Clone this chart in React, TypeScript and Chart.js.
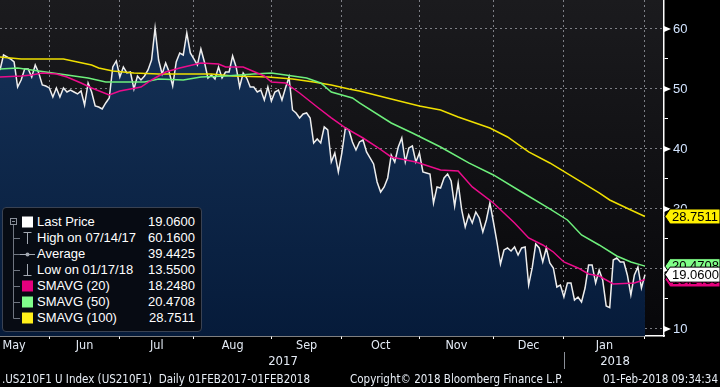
import React, { useEffect, useRef } from 'react';
import { Chart, registerables } from 'chart.js';

Chart.register(...registerables);

// ---- data (x = trading-day index from the first visible day, mid-May 2017) ----
const priceValues = [
  53.17, 55.67, 55.33, 55.0, 54.5, 50.33, 51.5, 53.33, 53.33, 52.0,
  54.0, 52.67, 50.67, 50.5, 50.17, 48.67, 50.17, 48.67, 50.17, 49.5,
  49.83, 49.5, 49.17, 49.67, 47.33, 51.0, 49.5, 47.17, 47.0, 46.67,
  47.67, 48.5, 53.67, 54.67, 52.0, 53.67, 52.67, 52.83, 50.0, 52.17,
  51.5, 52.17, 53.17, 54.83, 60.16, 54.83, 52.5, 54.33, 52.83, 50.5,
  54.5, 56.0, 55.67, 59.33, 56.0, 55.0, 54.0, 56.67, 54.5, 51.83,
  52.33, 51.67, 53.67, 51.83, 52.83, 52.83, 55.5, 53.67, 50.33, 52.67,
  51.83, 50.33, 50.33, 49.5, 49.83, 48.17, 50.33, 48.0, 49.5, 49.83,
  48.17, 50.17, 52.0, 46.5, 46.0, 45.17, 45.83, 46.0, 45.17, 41.0,
  41.67, 41.0, 43.67, 43.17, 37.83, 39.33, 36.17, 39.33, 43.5, 43.17,
  41.17, 39.83, 41.17, 41.5, 39.5, 38.5, 37.5, 34.5, 32.83, 33.67,
  35.17, 39.0, 37.83, 40.33, 41.83, 37.83, 40.17, 40.5, 37.83, 39.33,
  36.17, 36.0, 35.83, 31.0, 33.67, 33.5, 35.17, 35.83, 34.67, 30.5,
  34.33, 29.83, 27.0, 29.0, 27.67, 29.5, 28.5, 26.17, 28.17, 31.0,
  27.83, 24.5, 20.83, 23.17, 23.5, 23.0, 23.67, 22.33, 23.5, 23.67,
  17.33, 20.17, 24.17, 23.5, 21.17, 23.5, 21.0, 20.17, 17.0, 17.33,
  15.33, 17.67, 17.67, 14.83, 15.33, 14.5, 16.83, 20.67, 20.67, 17.67,
  19.83, 18.17, 13.83, 13.55, 21.5, 21.83, 21.17, 21.17, 19.0, 15.67,
  19.0, 20.33, 16.83, 19.06,
];

const sma20Days = [0, 6, 9, 12, 16, 19, 23, 26, 31, 34, 40, 43, 47, 51, 57, 62, 64, 69, 75, 77, 81, 85, 90, 94, 98, 103, 107, 111, 118, 125, 130, 134, 140, 146, 150, 154, 157, 160, 164, 167, 170, 174, 180, 183];
const sma20Values = [52.0, 52.17, 52.33, 52.67, 52.5, 52.0, 51.0, 50.17, 49.0, 49.67, 50.33, 51.5, 52.83, 53.5, 54.33, 54.17, 53.67, 53.67, 52.17, 51.17, 51.0, 49.33, 47.0, 45.17, 43.5, 41.83, 40.33, 38.67, 37.83, 36.5, 36.33, 33.67, 31.0, 27.67, 25.17, 24.0, 22.83, 21.17, 20.17, 19.17, 18.83, 17.5, 17.67, 18.248];

const sma50Days = [0, 5, 11, 19, 25, 30, 34, 41, 45, 52, 57, 64, 72, 77, 81, 87, 91, 94, 100, 102, 111, 117, 125, 133, 140, 148, 156, 161, 165, 170, 175, 179, 183];
const sma50Values = [53.33, 53.5, 53.0, 52.33, 51.83, 51.17, 51.17, 51.17, 51.67, 51.5, 52.0, 52.17, 52.5, 52.67, 52.33, 51.83, 51.0, 49.5, 48.5, 47.67, 44.33, 42.67, 40.33, 37.67, 35.67, 32.83, 30.0, 28.17, 25.67, 24.0, 22.17, 21.17, 20.4708];

const sma100Days = [0, 6, 18, 22, 26, 28, 32, 38, 45, 53, 60, 66, 76, 83, 89, 94, 99, 102, 111, 119, 125, 130, 139, 144, 150, 156, 163, 170, 173, 179, 183];
const sma100Values = [55.33, 55.0, 55.0, 54.5, 54.0, 53.5, 53.0, 52.67, 52.5, 52.5, 52.5, 52.17, 52.0, 51.67, 51.17, 50.67, 50.0, 49.67, 48.33, 47.17, 46.5, 45.33, 43.5, 42.0, 39.5, 37.67, 35.17, 32.67, 31.5, 29.83, 28.7511];

const monthStartDays = [14, 34, 55, 77, 97, 119, 140, 160, 183];
const monthLabelDays = [4, 24, 44.5, 66, 87, 108, 129.5, 150, 171.5];
const monthLabels = ['May', 'Jun', 'Jul', 'Aug', 'Sep', 'Oct', 'Nov', 'Dec', 'Jan'];
const yearLabelDays = [80.3, 174.5];
const yearLabels = ['2017', '2018'];
const yearBoundaryDay = 160;
const yTickValues = [10, 15, 20, 25, 30, 35, 40, 45, 50, 55, 60];
const yLabelValues = [10, 20, 30, 40, 50, 60];

const legendLabels = ['Last Price', 'High on 07/14/17', 'Average', 'Low on 01/17/18', 'SMAVG (20)', 'SMAVG (50)', 'SMAVG (100)'];
const legendValues = ['19.0600', '60.1600', '39.4425', '13.5500', '18.2480', '20.4708', '28.7511'];

const footerLeft = '.US210F1 U Index (US210F1)  Daily 01FEB2017-01FEB2018';
const footerMid = 'Copyright\u00A9 2018 Bloomberg Finance L.P.';
const footerRight = '01-Feb-2018 09:34:34';

// ---- styling ----
const X_MIN = 0;
const X_MAX = 188.4;
const Y_MIN = 8.83;
const Y_MAX = 64.83;
const NARROW = "'DejaVu Sans Condensed', 'Liberation Sans Narrow', sans-serif";
const SANS = "'Liberation Sans', Arial, sans-serif";
const GRID = 'rgba(165,168,176,0.72)';
const C_PRICE = '#eeeeee';
const C_20 = '#ec0c8c';
const C_50 = '#6ef07c';
const C_100 = '#efdf00';

const pts = (days: number[], vals: number[]) => days.map((d, i) => ({ x: d, y: vals[i] }));

const noPad = (s: any) => {
  s.paddingTop = 0;
  s.paddingBottom = 0;
  s.paddingLeft = 0;
  s.paddingRight = 0;
};

const bgPlugin = {
  id: 'bbgBackground',
  beforeDraw(chart: any) {
    const { ctx, chartArea: ca, width, height } = chart;
    ctx.save();
    ctx.fillStyle = '#000';
    ctx.fillRect(0, 0, width, height);
    if (ca) {
      const g = ctx.createLinearGradient(0, ca.top, 0, ca.bottom);
      g.addColorStop(0, '#1b1b1e');
      g.addColorStop(1, '#07070a');
      ctx.fillStyle = g;
      ctx.fillRect(ca.left, ca.top, ca.right - ca.left, ca.bottom - ca.top);
    }
    ctx.restore();
  },
};

const decoPlugin = {
  id: 'bbgDeco',
  afterDraw(chart: any) {
    const { ctx } = chart;
    const y = chart.scales.y;
    const x = chart.scales.x;
    const xy = chart.scales.xy;
    ctx.save();
    ctx.fillStyle = '#ffffff';
    yLabelValues.forEach((v) => {
      const py = y.getPixelForValue(v);
      ctx.beginPath();
      ctx.moveTo(y.left, py - 3);
      ctx.lineTo(y.left + 7, py);
      ctx.lineTo(y.left, py + 3);
      ctx.closePath();
      ctx.fill();
    });
    const sx = Math.round(x.getPixelForValue(yearBoundaryDay)) + 0.5;
    ctx.strokeStyle = '#8a8f98';
    ctx.lineWidth = 1;
    ctx.beginPath();
    ctx.moveTo(sx, xy.top - 3);
    ctx.lineTo(sx, xy.bottom - 2);
    ctx.stroke();
    const boxes = [
      { v: sma100Values[sma100Values.length - 1], bg: '#fff000', fg: '#000' },
      { v: sma50Values[sma50Values.length - 1], bg: '#80ff88', fg: '#000' },
      { v: sma20Values[sma20Values.length - 1], bg: '#e6007e', fg: '#000' },
      { v: priceValues[priceValues.length - 1], bg: '#ffffff', fg: '#000' },
    ];
    boxes.forEach((b) => {
      const py = y.getPixelForValue(b.v);
      const x0 = y.left + 1;
      ctx.beginPath();
      ctx.moveTo(x0, py);
      ctx.lineTo(x0 + 5, py - 7.5);
      ctx.lineTo(chart.width, py - 7.5);
      ctx.lineTo(chart.width, py + 7.5);
      ctx.lineTo(x0 + 5, py + 7.5);
      ctx.closePath();
      ctx.fillStyle = b.bg;
      ctx.fill();
      ctx.strokeStyle = '#000';
      ctx.lineWidth = 1;
      ctx.stroke();
      ctx.fillStyle = b.fg;
      ctx.font = `13px ${SANS}`;
      ctx.textBaseline = 'middle';
      ctx.textAlign = 'left';
      ctx.fillText(b.v.toFixed(4), x0 + 7, py + 0.5);
    });
    ctx.restore();
  },
};

export default function App() {
  const canvasRef = useRef<HTMLCanvasElement | null>(null);

  useEffect(() => {
    document.body.style.margin = '0';
    const canvas = canvasRef.current;
    if (!canvas) return;
    const chart = new Chart(canvas, {
      type: 'line',
      data: {
        datasets: [
          { label: 'SMAVG (20)', data: pts(sma20Days, sma20Values), borderColor: C_20, borderWidth: 1.5, pointRadius: 0, fill: false, order: 1 },
          { label: 'SMAVG (50)', data: pts(sma50Days, sma50Values), borderColor: C_50, borderWidth: 1.5, pointRadius: 0, fill: false, order: 1 },
          { label: 'SMAVG (100)', data: pts(sma100Days, sma100Values), borderColor: C_100, borderWidth: 1.5, pointRadius: 0, fill: false, order: 1 },
          {
            label: 'Last Price',
            data: priceValues.map((v, i) => ({ x: i, y: v })),
            borderColor: C_PRICE,
            borderWidth: 1.5,
            pointRadius: 0,
            fill: 'start',
            order: 5,
            backgroundColor: (c: any) => {
              const ca = c.chart.chartArea;
              if (!ca) return '#11294a';
              const g = c.chart.ctx.createLinearGradient(0, ca.top, 0, ca.bottom);
              g.addColorStop(0, '#163359');
              g.addColorStop(1, '#061b3a');
              return g;
            },
          },
        ],
      },
      options: {
        animation: false,
        responsive: false,
        maintainAspectRatio: false,
        layout: { padding: { left: 0, right: 0, top: 0, bottom: 16 }, autoPadding: false },
        plugins: { legend: { display: false }, tooltip: { enabled: false }, title: { display: false } },
        elements: { line: { tension: 0 } },
        scales: {
          x: {
            type: 'linear', position: 'bottom', min: X_MIN, max: X_MAX, weight: 0, z: 1,
            afterBuildTicks: (s: any) => { s.ticks = monthStartDays.map((v) => ({ value: v })); },
            ticks: { display: false },
            grid: { color: GRID, lineWidth: 1, drawTicks: true, tickLength: 3, tickColor: '#ffffff', tickWidth: 1, tickBorderDash: [] },
            border: { display: true, color: '#ffffff', width: 1.5, dash: [2, 3] },
            afterFit: (s: any) => { s.height = 3; noPad(s); },
          },
          xm: {
            type: 'linear', position: 'bottom', min: X_MIN, max: X_MAX, weight: 1,
            afterBuildTicks: (s: any) => { s.ticks = monthLabelDays.map((v) => ({ value: v })); },
            ticks: { autoSkip: false, maxRotation: 0, padding: 0, color: '#e4ebf5', font: { family: NARROW, size: 12.5, lineHeight: 1 }, callback: (_v: any, i: number) => monthLabels[i] },
            grid: { display: false, drawTicks: false },
            border: { display: false },
            afterFit: (s: any) => { s.height = 16; noPad(s); },
          },
          xy: {
            type: 'linear', position: 'bottom', min: X_MIN, max: X_MAX, weight: 2,
            afterBuildTicks: (s: any) => { s.ticks = yearLabelDays.map((v) => ({ value: v })); },
            ticks: { autoSkip: false, maxRotation: 0, padding: 0, color: '#e4ebf5', font: { family: NARROW, size: 13, lineHeight: 1 }, callback: (_v: any, i: number) => yearLabels[i] },
            grid: { display: false, drawTicks: false },
            border: { display: false },
            afterFit: (s: any) => { s.height = 16; noPad(s); },
          },
          y: {
            type: 'linear', position: 'right', min: Y_MIN, max: Y_MAX, z: 1,
            afterBuildTicks: (s: any) => { s.ticks = yTickValues.map((v) => ({ value: v })); },
            ticks: {
              color: '#d2e4ff', padding: 5, font: { family: SANS, size: 13 },
              callback: (v: any) => (yLabelValues.includes(Number(v)) ? String(v) : ''),
            },
            grid: {
              color: (c: any) => (c.tick && yLabelValues.includes(c.tick.value) ? GRID : 'rgba(0,0,0,0)'),
              tickColor: '#ffffff', tickLength: 4, tickWidth: 1, tickBorderDash: [],
            },
            border: { display: true, color: '#ffffff', width: 1.5, dash: [2, 3] },
            afterFit: (s: any) => { s.width = 56; noPad(s); },
          },
        },
      },
      plugins: [bgPlugin, decoPlugin],
    } as any);
    return () => chart.destroy();
  }, []);

  const rowC = (i: number) => 14 + 16 * i;
  const iconX = 24.5;
  const treeX = 10.5;
  const swatch = ['#ffffff', '', '', '', '#e6007e', '#80ff8c', '#fff01a'];
  const iconGrey = '#a3a9b2';
  const footStyle: any = { position: 'absolute', top: 372, lineHeight: '14px', font: `11.5px ${NARROW}`, color: '#e8eef6', whiteSpace: 'pre' };

  return (
    <div style={{ position: 'fixed', left: 0, top: 0, width: 720, height: 387, background: '#000', overflow: 'hidden' }}>
      <canvas ref={canvasRef} width={720} height={387} style={{ display: 'block', width: 720, height: 387 }} />
      <div style={{ position: 'absolute', left: 2, top: 207, width: 200, height: 125, boxSizing: 'border-box', background: '#070b13', border: '1px solid #3a4252', borderRadius: 4 }}>
        <svg width={198} height={123} style={{ position: 'absolute', left: 0, top: 0 }}>
          <rect x={7.5} y={10.5} width={6} height={6} fill="none" stroke="#8a909a" strokeWidth={1} />
          <line x1={9} y1={13.5} x2={12} y2={13.5} stroke="#8a909a" strokeWidth={1} />
          <line x1={treeX} y1={17} x2={treeX} y2={rowC(6) + 0.5} stroke="#6f7580" strokeWidth={1} />
          {[1, 2, 3, 4, 5, 6].map((i) => (
            <line key={i} x1={treeX} y1={rowC(i) + 0.5} x2={17} y2={rowC(i) + 0.5} stroke="#6f7580" strokeWidth={1} />
          ))}
          {swatch.map((c, i) => (c ? <rect key={i} x={19} y={rowC(i) - 5.5} width={11} height={11} fill={c} /> : null))}
          <line x1={20.5} y1={rowC(1) - 5.5} x2={28.5} y2={rowC(1) - 5.5} stroke={iconGrey} strokeWidth={1} />
          <line x1={iconX} y1={rowC(1) - 5.5} x2={iconX} y2={rowC(1) + 6} stroke={iconGrey} strokeWidth={1} />
          <line x1={17} y1={rowC(2) + 0.5} x2={32} y2={rowC(2) + 0.5} stroke={iconGrey} strokeWidth={1} />
          <circle cx={iconX} cy={rowC(2) + 0.5} r={2} fill={iconGrey} />
          <line x1={iconX} y1={rowC(3) - 6} x2={iconX} y2={rowC(3) + 5.5} stroke={iconGrey} strokeWidth={1} />
          <line x1={20.5} y1={rowC(3) + 5.5} x2={28.5} y2={rowC(3) + 5.5} stroke={iconGrey} strokeWidth={1} />
        </svg>
        {legendLabels.map((l, i) => (
          <div key={l} style={{ position: 'absolute', left: 34, top: rowC(i) - 8, height: 16, lineHeight: '16px', font: `13px ${SANS}`, color: '#ffffff', whiteSpace: 'nowrap' }}>{l}</div>
        ))}
        {legendValues.map((v, i) => (
          <div key={i} style={{ position: 'absolute', right: 6, top: rowC(i) - 8, height: 16, lineHeight: '16px', font: `13px ${SANS}`, color: '#ffffff', whiteSpace: 'nowrap' }}>{v}</div>
        ))}
      </div>
      <div style={{ ...footStyle, left: 2 }}>{footerLeft}</div>
      <div style={{ ...footStyle, left: 350 }}>{footerMid}</div>
      <div style={{ ...footStyle, right: 2 }}>{footerRight}</div>
    </div>
  );
}
